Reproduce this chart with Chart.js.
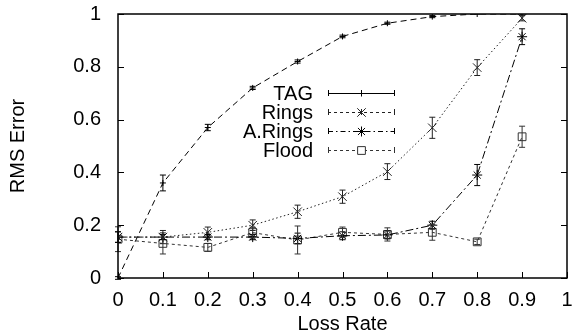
<!DOCTYPE html>
<html><head><meta charset="utf-8">
<script src="https://cdn.jsdelivr.net/npm/chart.js@4/dist/chart.umd.min.js"></script>
<style>html,body{margin:0;padding:0;background:#fff}</style>
</head><body>
<canvas id="c" width="574" height="334"></canvas>
<script>
const lossRates = [0, 0.1, 0.2, 0.3, 0.4, 0.5, 0.6, 0.7, 0.8, 0.9];
const tagValues   = [0, 0.36, 0.57, 0.72, 0.82, 0.915, 0.965, 0.99, 1.0, 1.0];
const tagErrors   = [0.005, 0.03, 0.012, 0.006, 0.006, 0.005, 0.004, 0.004, 0, 0];
const ringsValues = [0.155, 0.155, 0.173, 0.2, 0.251, 0.308, 0.403, 0.569, 0.797, 0.984];
const ringsErrors = [0.02, 0.025, 0.02, 0.02, 0.025, 0.025, 0.03, 0.04, 0.03, 0.01];
const aRingsValues = [0.155, 0.155, 0.155, 0.155, 0.15, 0.16, 0.163, 0.2, 0.39, 0.914];
const aRingsErrors = [0.02, 0.01, 0.01, 0.01, 0.02, 0.015, 0.015, 0.015, 0.04, 0.03];
const floodValues = [0.147, 0.131, 0.116, 0.172, 0.144, 0.173, 0.165, 0.173, 0.137, 0.535];
const floodErrors = [0.047, 0.04, 0.015, 0.02, 0.053, 0.02, 0.025, 0.03, 0.01, 0.04];
const seriesNames = ['TAG', 'Rings', 'A.Rings', 'Flood'];
const xTicks = [0, 0.1, 0.2, 0.3, 0.4, 0.5, 0.6, 0.7, 0.8, 0.9, 1];
const yTicks = [0, 0.2, 0.4, 0.6, 0.8, 1];

const FONT = "'Liberation Sans', Arial, Helvetica, sans-serif";

function pts(vals){ return lossRates.map((x,i)=>({x:x, y:vals[i]})); }

const styles = [
  {color:'#000', dash:[6,4], legendDash:[], point:'cross', radius:3},
  {color:'#222', dash:[1.5,2.5], legendDash:[3,3], point:'crossRot', radius:6},
  {color:'#000', dash:[8,3,2,3], legendDash:[5,3,1.5,3], point:'star', radius:5},
  {color:'#333', dash:[3,3], legendDash:[3,3], point:'rect', radius:5.5}
];
const valueSets = [tagValues, ringsValues, aRingsValues, floodValues];
const errorSets = [tagErrors, ringsErrors, aRingsErrors, floodErrors];

const datasets = seriesNames.map((name,i)=>({
  label: name,
  data: pts(valueSets[i]),
  errors: errorSets[i],
  borderColor: styles[i].color,
  borderWidth: 1,
  borderDash: styles[i].dash,
  pointStyle: styles[i].point,
  pointRadius: styles[i].radius,
  pointBorderWidth: 1,
  pointBorderColor: styles[i].color,
  pointBackgroundColor: 'rgba(0,0,0,0)',
  fill: false,
  tension: 0
}));

const frame = {
  id: 'frame',
  afterDatasetsDraw(chart){
    const ctx = chart.ctx, a = chart.chartArea;
    const xs = chart.scales.x, ys = chart.scales.y;
    ctx.save();
    // error bars
    chart.data.datasets.forEach((ds,i)=>{
      ctx.strokeStyle = ds.borderColor;
      ctx.lineWidth = 1;
      ctx.setLineDash([]);
      ds.data.forEach((p,j)=>{
        const e = ds.errors[j];
        if (!e) return;
        const px = xs.getPixelForValue(p.x);
        const y1 = ys.getPixelForValue(p.y - e);
        const y2 = ys.getPixelForValue(Math.min(p.y + e, 1.0));
        ctx.beginPath();
        ctx.moveTo(px, y1); ctx.lineTo(px, y2);
        ctx.moveTo(px-3, y1); ctx.lineTo(px+3, y1);
        ctx.moveTo(px-3, y2); ctx.lineTo(px+3, y2);
        ctx.stroke();
      });
    });
    // border
    ctx.setLineDash([]);
    ctx.strokeStyle = '#000';
    ctx.lineWidth = 1.5;
    ctx.strokeRect(a.left, a.top, a.right - a.left, a.bottom - a.top);
    ctx.lineWidth = 1;
    ctx.beginPath();
    xTicks.forEach(v=>{
      const px = Math.round(xs.getPixelForValue(v)) + 0.5;
      ctx.moveTo(px, a.bottom); ctx.lineTo(px, a.bottom - 6);
    });
    yTicks.forEach(v=>{
      const py = Math.round(ys.getPixelForValue(v)) + 0.5;
      ctx.moveTo(a.left, py); ctx.lineTo(a.left + 6, py);
      ctx.moveTo(a.right, py); ctx.lineTo(a.right - 6, py);
    });
    ctx.stroke();
    // legend
    ctx.font = '20px ' + FONT;
    ctx.textAlign = 'right';
    ctx.textBaseline = 'middle';
    const rows = [93, 112, 131, 150];
    const lx1 = 328, lx2 = 395, lm = 361.5;
    chart.data.datasets.forEach((ds,i)=>{
      const y = rows[i];
      ctx.fillStyle = '#000';
      ctx.fillText(ds.label, 313, y + 1);
      ctx.strokeStyle = ds.borderColor;
      ctx.lineWidth = 1;
      ctx.setLineDash(styles[i].legendDash);
      ctx.beginPath(); ctx.moveTo(lx1, y + 0.5); ctx.lineTo(lx2, y + 0.5); ctx.stroke();
      ctx.setLineDash([]);
      ctx.beginPath();
      ctx.moveTo(lx1 + 0.5, y - 3); ctx.lineTo(lx1 + 0.5, y + 3);
      ctx.moveTo(lx2 - 0.5, y - 3); ctx.lineTo(lx2 - 0.5, y + 3);
      ctx.moveTo(lm, y - 3); ctx.lineTo(lm, y + 3);
      ctx.stroke();
      ctx.fillStyle = '#fff';
      Chart.helpers.drawPoint(ctx, {pointStyle: styles[i].point, radius: styles[i].radius, borderWidth: 1}, lm, y + 0.5);
    });
    ctx.restore();
  }
};

new Chart(document.getElementById('c'), {
  type: 'line',
  data: { datasets: datasets },
  plugins: [frame],
  options: {
    responsive: false,
    devicePixelRatio: 1,
    animation: false,
    layout: { padding: { left: 0, right: 7, top: 14, bottom: 0 } },
    plugins: { legend: { display: false }, tooltip: { enabled: false } },
    scales: {
      x: {
        type: 'linear', min: 0, max: 1,
        grid: { display: false },
        border: { display: false },
        afterBuildTicks: s => { s.ticks = xTicks.map(v => ({ value: v })); },
        afterFit: s => { s.height = 56; s.paddingLeft = 0; s.paddingRight = 0; },
        ticks: {
          autoSkip: false, maxRotation: 0, padding: 2, color: '#000',
          font: { family: FONT, size: 20 },
          callback: v => String(v)
        },
        title: { display: true, text: 'Loss Rate', color: '#000',
          font: { family: FONT, size: 20, lineHeight: 1 }, padding: { top: 0, bottom: 0 } }
      },
      y: {
        type: 'linear', min: 0, max: 1,
        grid: { display: true, drawOnChartArea: false, drawTicks: true, tickLength: 17, tickColor: 'rgba(0,0,0,0)' },
        border: { display: false },
        afterBuildTicks: s => { s.ticks = yTicks.map(v => ({ value: v })); },
        afterFit: s => { s.width = 118; s.paddingTop = 0; s.paddingBottom = 0; },
        ticks: {
          padding: 0, color: '#000',
          font: { family: FONT, size: 20 },
          callback: v => String(v)
        },
        title: { display: true, text: 'RMS Error', color: '#000',
          font: { family: FONT, size: 20, lineHeight: 1.2 }, padding: { top: 6, bottom: 0 } }
      }
    }
  }
});
</script>
</body></html>
